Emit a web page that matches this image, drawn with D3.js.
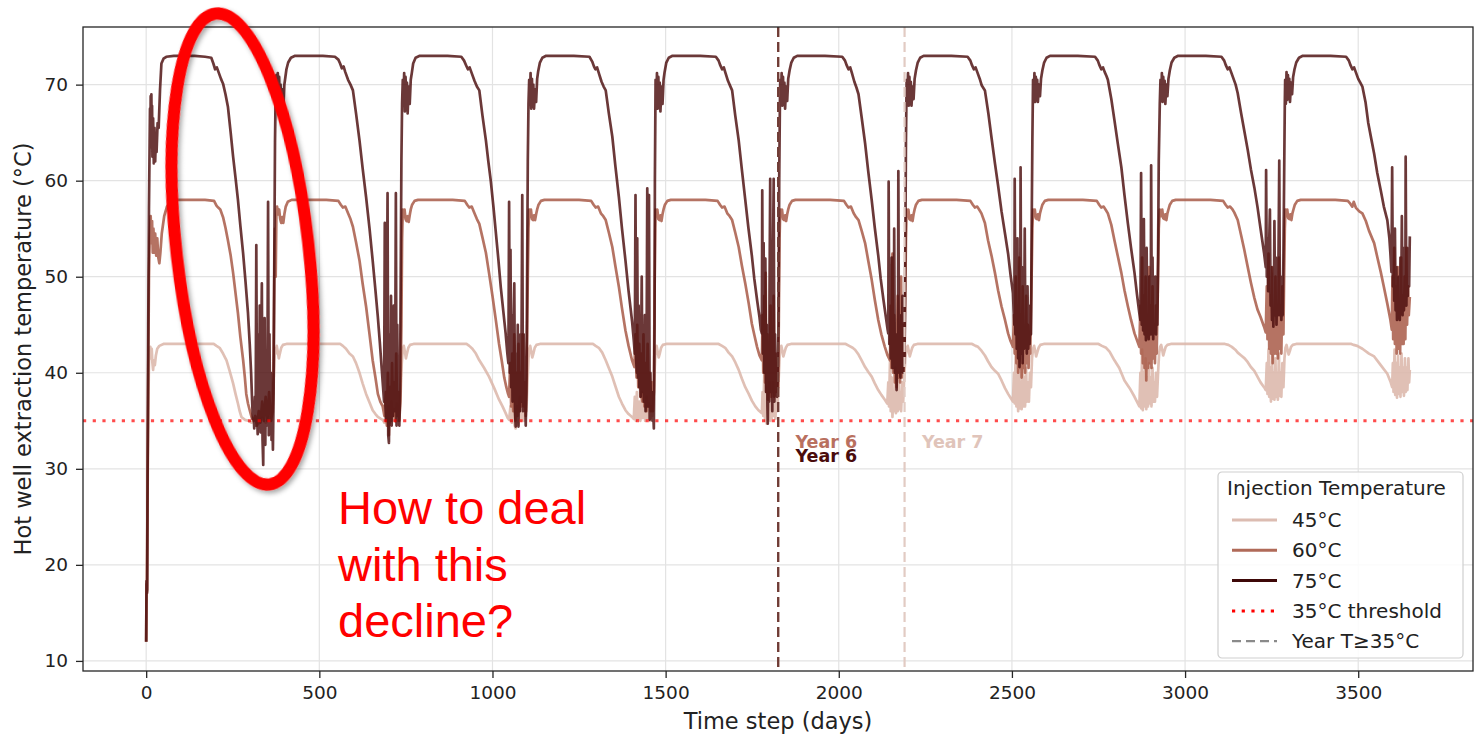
<!DOCTYPE html>
<html><head><meta charset="utf-8">
<script src="https://cdn.jsdelivr.net/npm/d3@7"></script>
<style>html,body{margin:0;padding:0;background:#fff}svg{display:block}</style>
</head><body>
<svg id="chart" width="1475" height="736"></svg>
<script>
// ---------------- DATA (day, °C) ----------------
const t45 = [
[0,12],[1,18],[2,17],[4,27],[6,36],[8,41],[10,42.5],[12,42.7],[14,41.5],[16,42.5],[18,41],[20,40.3],[22,41.3],[25,40.8],[28,41.8],[32,42.5],[38,42.8],[50,43],[100,43],[150,43],[195,43],[203,42.8],[212,42.6],[222,42],[232,41.3],[241,40.2],[251,38.9],[258,37.8],[265,36.8],[270,36],[275,35.4],[285,35.1],[295,35],[305,34.8],[315,35.2],[325,34.7],[335,35.3],[345,34.8],[355,35.4],[362,35],[366,36],[369,40],[372,42.5],
[374,42],[377,42.8],[380,42.2],[383,41.5],[386,42],[390,42.6],[395,42.9],[405,43],[460,43],[520,43],[560,43],[568,42.8],[577,42.5],[587,42],[597,41.7],[606,41],[616,40],[625,38.9],[635,37.8],[645,36.9],[654,36.1],[662,35.7],[669,35.4],[678,35.2],[683,35.1],[688,34.8],[692,35.8],[696,34.6],[700,36.5],[704,34.8],[708,37],[712,35],[716,36.2],[720,34.9],[724,36.8],[728,35],[732,36],[735,38],[738,41],[741,42.5],
[744,42.8],[747,42.2],[750,41.5],[753,42],[757,42.6],[762,42.9],[772,43],[830,43],[890,43],[925,43],[933,42.8],[942,42.5],[952,42],[962,41.3],[976,40.5],[990,39.6],[1005,38.4],[1019,37.2],[1029,36.5],[1038,35.8],[1044,35.3],[1048,35.1],[1052,36.5],[1056,34.8],[1060,37],[1064,34.5],[1067,34.2],[1071,36.5],[1075,34.6],[1079,37.5],[1083,35],[1087,36.2],[1091,35],[1095,37],[1098,36],[1101,39],[1104,41.5],[1106,42.5],
[1109,42.8],[1112,42.2],[1115,41.6],[1118,42],[1122,42.6],[1127,42.9],[1137,43],[1195,43],[1255,43],[1290,43],[1298,42.8],[1307,42.6],[1317,42.1],[1327,41.3],[1336,40.5],[1346,39.6],[1355,38.6],[1365,37.5],[1374,36.8],[1384,36.1],[1393,35.7],[1403,35.4],[1408,35.2],[1411,37.5],[1414,35],[1417,38],[1420,35.2],[1424,37],[1427,35],[1431,38],[1434,35.3],[1438,36.5],[1441,35],[1445,37.5],[1448,35.2],[1452,36.8],[1455,35],[1459,36.5],[1462,35.5],[1465,37],[1468,40],[1471,42.5],
[1474,42.8],[1477,42.2],[1480,41.6],[1483,42],[1487,42.6],[1492,42.9],[1502,43],[1560,43],[1620,43],[1653,43],[1663,42.8],[1672,42.6],[1682,42.1],[1692,41.7],[1701,41.1],[1711,40.3],[1720,39.4],[1730,38.5],[1740,37.8],[1749,37.1],[1759,36.5],[1768,36.1],[1778,35.8],[1780,38],[1782,35.5],[1785,40],[1787,35],[1790,38.5],[1792,34.7],[1795,37],[1797,35.2],[1800,39],[1802,35],[1805,37.5],[1807,35.3],[1810,39],[1812,35.5],[1815,37],[1817,35.2],[1820,38],[1823,36],[1826,39],[1829,41.5],[1831,42.5],
[1834,42.8],[1837,42.3],[1840,41.7],[1843,42.1],[1847,42.6],[1852,42.9],[1862,43],[1920,43],[1980,43],[2020,43],[2030,42.8],[2040,42.6],[2047,42.4],[2057,41.9],[2066,41.3],[2076,40.6],[2085,40.1],[2095,39.6],[2104,38.9],[2114,38.2],[2123,37.7],[2133,37.2],[2140,36.8],[2143,39],[2145,36.5],[2148,41.3],[2150,36],[2153,39.5],[2155,35.4],[2158,38],[2160,36],[2163,40.5],[2165,35.8],[2168,38.5],[2170,36],[2173,40],[2175,36.2],[2178,38],[2180,36],[2183,39],[2186,37],[2189,39.5],[2192,41.5],[2196,42.5],
[2199,42.8],[2202,42.3],[2205,41.7],[2208,42.1],[2212,42.6],[2217,42.9],[2227,43],[2285,43],[2345,43],[2385,43],[2395,42.8],[2402,42.7],[2412,42.3],[2422,41.8],[2431,41.2],[2441,40.6],[2451,40.2],[2460,39.9],[2470,39.2],[2480,38.4],[2489,37.8],[2496,37.4],[2503,37],[2506,40],[2508,36.8],[2511,42.4],[2513,36.5],[2516,40],[2518,36],[2521,41.5],[2523,36.3],[2526,39],[2528,36.2],[2531,41],[2533,36.5],[2536,39.5],[2538,36.5],[2541,40.5],[2543,37],[2546,39],[2549,37],[2552,40],[2555,38.5],[2558,41.5],[2561,42.5],
[2564,42.8],[2567,42.3],[2570,41.7],[2573,42.1],[2577,42.6],[2582,42.9],[2592,43],[2650,43],[2710,43],[2750,43],[2760,42.8],[2772,42.6],[2782,42.2],[2796,41.3],[2810,40.5],[2825,39.2],[2840,38.4],[2854,37.5],[2861,37],[2868,36.5],[2871,40],[2873,36.3],[2876,42.4],[2878,36.1],[2881,40],[2883,36.5],[2886,41.5],[2888,36.2],[2891,39.5],[2893,36.5],[2896,41],[2898,36.8],[2901,39.5],[2903,36.5],[2906,40.5],[2908,37],[2911,39],[2913,37],[2916,40],[2919,37.5],[2922,40],[2925,42],[2928,42.7],
[2931,42.9],[2934,42.4],[2937,41.8],[2940,42.2],[2944,42.7],[2949,42.9],[2959,43],[3020,43],[3080,43],[3115,43],[3125,42.9],[3135,42.7],[3145,42.4],[3152,42.1],[3162,41.8],[3172,41.5],[3181,41.1],[3190,40.6],[3200,40.2],[3209,39.6],[3218,39],[3228,38.5],[3233,38.2],[3236,41],[3238,37.8],[3241,42.4],[3243,37.5],[3246,40.5],[3248,37],[3251,41.8],[3253,37.3],[3256,40],[3258,37.2],[3261,41.5],[3263,37.5],[3266,40],[3268,37.2],[3271,42],[3273,37.6],[3276,40],[3278,37.5],[3281,41],[3284,38.5],[3287,41.5],[3290,42.6],
[3293,42.9],[3296,42.4],[3299,41.9],[3302,42.2],[3306,42.7],[3311,42.9],[3321,43],[3380,43],[3440,43],[3480,43],[3487,42.9],[3497,42.8],[3512,42.5],[3531,42],[3546,41.7],[3565,40.8],[3584,39.9],[3593,39.1],[3598,38.5],[3600,41],[3602,38],[3605,42.4],[3607,37.7],[3610,41],[3612,37.4],[3615,41.8],[3617,37.8],[3620,40.5],[3622,37.5],[3625,42],[3627,38],[3630,40.5],[3632,37.6],[3635,41.5],[3637,38],[3640,40.5],[3642,38.2],[3645,41.5],[3647,39],[3649,40.3]
];

const t60 = [
[0,12],[1,18],[2,17],[4,28],[6,40],[8,50],[10,54],[13,56.3],[15,53.5],[17,55.8],[19,52.5],[21,55],[23,52.5],[26,54.5],[29,52.2],[32,54],[35,52],[38,51.4],[41,52.5],[45,54.5],[52,56.3],[60,57.3],[70,57.8],[80,58],[120,58],[170,58],[196,57.9],[203,57.4],[208,57.2],[214,57],[222,56.2],[229,55.1],[236,53.8],[244,52.2],[251,50.4],[258,48.3],[265,46.2],[272,43.7],[280,41.3],[285,39.5],[289,37.8],[294,36.8],[299,36.1],[305,35.3],[310,35],[315,35.5],[320,34.5],[325,36],[330,34.8],[335,37],[340,35],[345,37.5],[350,35],[355,38],[360,35],[365,36],[368,42],[370,50],[372,55],
[374,50],[376,56.5],[378,57.3],[381,56.5],[384,57],[387,56],[390,55.6],[393,56.2],[396,55.6],[399,56.5],[403,57.3],[409,57.8],[420,58],[470,58],[520,58],[555,57.9],[562,57.5],[568,57.2],[575,57.3],[583,56.6],[590,56],[597,55.2],[606,53.6],[616,51.7],[625,49.3],[635,46.9],[645,44],[654,41.3],[662,39.5],[669,37.8],[676,37],[683,36.5],[688,35.5],[692,38],[695,34.5],[698,40],[701,33.5],[704,38.5],[707,35],[710,41],[713,35.5],[716,39],[719,35],[722,42],[725,35.5],[728,38],[731,35],[734,37],[737,45],[739,54],[741,57],
[743,56.2],[746,57],[749,56],[752,55.8],[755,56.3],[758,55.7],[761,56.4],[764,57],[768,57.5],[775,57.9],[785,58],[835,58],[885,58],[920,57.9],[927,57.5],[933,57.2],[940,57.3],[948,56.6],[955,56],[962,55.5],[971,54.1],[981,52.5],[990,50.4],[1000,48],[1010,45.4],[1019,43],[1027,41.2],[1034,39.5],[1040,38.5],[1045,37.8],[1048,37.5],[1051,41],[1054,36.5],[1057,42],[1060,36],[1063,44],[1066,35],[1069,40],[1072,35.5],[1075,43],[1078,36],[1081,40],[1084,36.5],[1087,44],[1090,36.5],[1093,39],[1096,35.5],[1099,40],[1102,50],[1104,55],[1106,57],
[1108,56.2],[1111,57],[1114,56],[1117,55.9],[1120,56.4],[1123,55.9],[1126,56.5],[1129,57],[1133,57.5],[1140,57.9],[1150,58],[1200,58],[1250,58],[1285,57.9],[1292,57.5],[1298,57.2],[1305,57.3],[1313,56.6],[1320,56.3],[1327,55.9],[1336,54.6],[1346,53.1],[1355,51.1],[1365,48.95],[1374,46.7],[1384,44.4],[1393,42.8],[1403,41.3],[1410,40.6],[1413,44],[1416,39.5],[1418,45],[1421,38.5],[1424,43],[1427,37.5],[1430,42],[1433,37],[1436,44],[1439,36.5],[1442,41],[1445,36],[1448,43],[1451,36.5],[1454,40],[1457,36],[1460,39],[1463,36],[1466,38],[1468,48],[1470,55],[1471,57],
[1473,56.3],[1476,57],[1479,56],[1482,55.9],[1485,56.4],[1488,55.8],[1491,56.5],[1494,57],[1498,57.5],[1505,57.9],[1515,58],[1565,58],[1615,58],[1650,57.9],[1657,57.5],[1663,57.2],[1670,57.3],[1678,56.6],[1685,56.3],[1692,55.9],[1701,54.6],[1711,53.1],[1720,51.2],[1730,49.3],[1740,47.2],[1749,45.1],[1757,43.8],[1764,42.7],[1771,41.8],[1778,41.3],[1780,46],[1782,40],[1785,48],[1787,39],[1789,50.4],[1791,38],[1794,44],[1796,37.2],[1799,42],[1801,38],[1803,47],[1805,37.5],[1808,43],[1810,38],[1812,48],[1814,37.5],[1817,42],[1819,38],[1822,41],[1825,38.5],[1827,46],[1829,54],[1831,57],
[1833,56.3],[1836,57],[1839,56],[1842,55.9],[1845,56.4],[1848,55.8],[1851,56.5],[1854,57],[1858,57.5],[1865,57.9],[1875,58],[1925,58],[1975,58],[2015,57.9],[2022,57.5],[2028,57.2],[2035,57.3],[2043,56.6],[2050,56.2],[2057,55.9],[2066,54.8],[2076,53.5],[2085,51.7],[2095,49.7],[2104,47.6],[2114,45.5],[2123,44],[2133,42.7],[2141,41.8],[2148,41.3],[2150,47],[2152,40.5],[2155,52.4],[2157,40],[2160,46],[2162,39],[2165,44],[2167,38.5],[2170,48],[2172,39.5],[2175,44],[2177,39],[2180,50],[2182,39.5],[2185,45],[2187,40],[2190,43],[2192,48],[2194,54],[2196,57],
[2198,56.3],[2201,57],[2204,56],[2207,55.9],[2210,56.4],[2213,55.8],[2216,56.5],[2219,57],[2223,57.5],[2230,57.9],[2240,58],[2290,58],[2340,58],[2380,57.9],[2387,57.5],[2393,57.2],[2400,57.3],[2407,56.9],[2412,56.6],[2422,55.6],[2431,53.8],[2441,52.2],[2451,50.4],[2460,48.6],[2470,46.9],[2480,45.5],[2489,44.1],[2496,43.3],[2503,42.7],[2506,46],[2508,42],[2511,50],[2513,41],[2516,47],[2518,40],[2521,52],[2523,40.5],[2526,46],[2528,39.5],[2531,49],[2533,40.5],[2536,44],[2538,40],[2541,48],[2543,41],[2546,45],[2548,40.5],[2551,44],[2553,42],[2556,48],[2559,55],[2561,57],
[2563,56.3],[2566,57],[2569,56.1],[2572,56],[2575,56.5],[2578,55.9],[2581,56.6],[2584,57],[2588,57.5],[2595,57.9],[2605,58],[2655,58],[2705,58],[2745,57.9],[2752,57.5],[2758,57.2],[2765,57.3],[2772,56.9],[2777,56.6],[2787,55.4],[2796,53.8],[2806,52.1],[2816,50.4],[2825,48.6],[2835,46.9],[2844,45.5],[2854,44.1],[2861,43.4],[2868,42.7],[2871,47],[2873,42],[2876,52],[2878,41],[2881,48],[2883,40.5],[2886,50],[2888,39.2],[2891,46],[2893,40.5],[2896,51],[2898,41],[2901,47],[2903,40.5],[2906,49],[2908,41.5],[2911,45],[2913,41],[2916,47],[2918,42],[2921,48],[2924,55],[2927,57],
[2931,56.3],[2934,57],[2937,56.1],[2940,56],[2943,56.5],[2946,55.9],[2949,56.6],[2952,57],[2956,57.5],[2963,57.9],[2973,58],[3023,58],[3073,58],[3110,57.9],[3117,57.5],[3123,57.2],[3130,57.3],[3137,57],[3142,56.7],[3152,55.9],[3162,54.3],[3171,52.8],[3181,51],[3190,49.4],[3200,47.8],[3209,46.6],[3218,45.8],[3228,44.8],[3233,44.2],[3236,49],[3238,43.5],[3241,52.4],[3243,42.5],[3246,48],[3248,42],[3251,51],[3253,41],[3256,46],[3258,42],[3261,50],[3263,42],[3266,47],[3268,41.5],[3271,52],[3273,42.5],[3276,47],[3278,42],[3281,49],[3284,44],[3286,50],[3288,55],[3290,57],
[3292,56.3],[3295,57],[3298,56.1],[3301,56],[3304,56.5],[3307,55.9],[3310,56.6],[3313,57],[3317,57.5],[3324,57.9],[3334,58],[3384,58],[3434,58],[3470,57.9],[3477,57.6],[3483,57.3],[3487,57.8],[3493,57.2],[3503,56.8],[3512,56.6],[3522,55.8],[3531,54.8],[3546,53.5],[3556,51.9],[3565,50.5],[3574,48.95],[3584,47.2],[3593,45.5],[3597,44.5],[3599,50],[3601,43.5],[3604,53],[3606,43],[3609,49],[3611,42],[3614,51],[3616,42.5],[3619,47],[3621,42],[3624,52],[3626,43],[3629,48],[3631,43],[3634,50],[3636,43.5],[3639,53],[3641,45],[3644,49],[3646,46],[3649,47.9]
];

const t75 = [
[0,12],[1,18.3],[2,17.1],[3,17.4],[4,29],[5,37],[6,45],[8,57],[10,64],[11,67.5],[12,63.5],[13,68.8],[14,64.5],[15,69],[16,64],[17,67.8],[18,62.5],[20,66.5],[22,61.8],[24,65.5],[26,62],[28,64.5],[30,63],[33,66],[36,65.5],[40,69.5],[44,72.2],[50,72.7],[58,72.9],[80,73],[110,73],[140,73],[170,72.9],[188,72.8],[194,72.2],[199,71.6],[204,71.8],[210,71.2],[216,70.6],[222,70.1],[229,69],[236,67.7],[244,65],[251,62.5],[258,60.3],[265,58],[272,55.3],[280,52.4],[287,49.4],[294,46.2],[299,43],[303,40],[306,37],[308,35.2],[310,36],[312,34.2],[314,37.5],[316,34.5],[318,53.3],[320,36],[322,33.6],[324,44],[326,34.8],[328,47],[330,33.8],[332,41.5],[334,49.3],[336,33],[338,30.4],[340,43],[342,45.7],[344,32.5],[346,41],[348,34.5],[350,39],[352,57.8],[354,33.5],[356,44],[358,35],[360,40],[362,33],[364,36],[366,32],[368,38],[370,52],[372,64],[374,69.5],
[376,71],[378,68.5],[380,71.2],[382,67.5],[384,70.8],[386,67],[388,70],[390,68],[393,69.5],[396,67.5],[399,70],[402,70.8],[405,71.6],[410,72.3],[418,72.8],[430,73],[470,73],[510,73],[545,72.9],[555,72.6],[560,72.2],[565,71.7],[570,71.9],[575,71.3],[583,70.5],[590,70],[597,69.4],[606,67],[616,64.2],[625,61.3],[635,58.3],[645,55],[654,51.7],[662,48.6],[669,45.8],[675,43],[680,40.5],[684,38.5],[687,37],[689,55.6],[691,36.5],[693,35],[695,45],[697,58.7],[699,33.5],[701,32.7],[703,44],[705,36],[707,48],[709,34.5],[711,42],[713,35.5],[715,47],[717,36],[719,40],[721,58.7],[723,34.5],[725,45],[727,37],[729,41],[731,34.5],[733,38],[735,50],[737,62],[739,68],[741,70.5],
[743,68.5],[745,71.2],[747,67.2],[749,70.8],[751,67.8],[753,70.2],[755,67],[758,69.8],[761,68],[764,70.5],[767,71.2],[771,72.2],[778,72.8],[790,73],[830,73],[870,73],[910,72.9],[918,72.5],[924,72],[929,71.6],[934,71.8],[940,71.2],[948,70.4],[955,69.8],[962,69.4],[971,66.8],[981,64.2],[988,62],[995,60],[1003,57.2],[1010,54.5],[1017,51.8],[1024,48.9],[1031,46.5],[1038,44.1],[1043,42],[1046,41],[1048,57.8],[1050,40],[1052,52.8],[1054,38.5],[1056,46],[1058,37],[1060,44],[1063,49.3],[1065,36],[1067,34.4],[1069,42],[1071,35.5],[1073,45],[1075,34.4],[1077,40],[1079,36],[1081,44],[1083,37],[1086,58.5],[1088,36],[1090,44],[1092,38],[1094,40],[1096,34.5],[1098,38],[1100,50],[1102,62],[1104,68],[1106,70.5],
[1108,68],[1110,71.2],[1112,67.5],[1114,70.6],[1116,67.8],[1118,70],[1120,67.5],[1123,69.5],[1126,68.2],[1129,70.6],[1132,71.4],[1137,72.3],[1144,72.8],[1155,73],[1195,73],[1235,73],[1280,72.9],[1288,72.4],[1293,71.9],[1297,71.6],[1302,71.8],[1308,71.1],[1315,70.3],[1321,69.8],[1327,69.4],[1336,67],[1346,64.6],[1355,61.5],[1365,58.3],[1374,55],[1384,51.7],[1393,48.5],[1403,45.4],[1408,43.4],[1411,42],[1413,58.5],[1415,41.3],[1417,40],[1418,54],[1420,39.5],[1422,47],[1424,38.5],[1426,44],[1428,37.5],[1431,50],[1433,38],[1435,43],[1437,37],[1440,46],[1442,36],[1445,42],[1447,59.2],[1449,36.5],[1451,44],[1452,58.5],[1454,35.1],[1456,40],[1458,35.5],[1460,38],[1462,35],[1464,36],[1466,34.2],[1468,45],[1469,60],[1471,70.5],
[1473,68.2],[1475,71.2],[1477,67.5],[1479,70.8],[1481,67.8],[1483,70.2],[1485,67.2],[1488,69.8],[1491,68],[1494,70.5],[1497,71.3],[1502,72.3],[1509,72.8],[1520,73],[1560,73],[1600,73],[1645,72.9],[1653,72.5],[1658,72],[1663,71.6],[1668,71.8],[1673,71.2],[1680,70.4],[1686,69.9],[1692,69.4],[1701,66.8],[1711,64.2],[1720,61.2],[1730,58],[1739,55.1],[1749,52.2],[1756,49.8],[1764,47.6],[1771,45.8],[1775,44.5],[1778,44.1],[1779,59],[1781,42],[1783,53.5],[1785,40],[1787,47],[1788,51.9],[1790,38],[1792,45],[1794,36.5],[1795,34.7],[1797,42],[1799,37],[1800,48],[1802,60.2],[1804,38],[1806,45],[1808,36],[1810,52],[1812,60.2],[1814,37],[1816,44],[1818,38],[1820,42],[1822,37.5],[1824,40],[1826,45],[1828,60],[1830,68],[1831,70.5],
[1833,68.5],[1835,71.2],[1837,67.8],[1839,70.8],[1841,68],[1843,70.2],[1845,67.5],[1848,69.8],[1851,68.3],[1854,70.6],[1858,71.5],[1863,72.3],[1870,72.8],[1880,73],[1920,73],[1960,73],[2010,72.9],[2018,72.5],[2023,72],[2028,71.6],[2033,71.8],[2038,71.2],[2045,70.3],[2051,69.7],[2057,69],[2066,66.6],[2076,63.9],[2085,61],[2095,58],[2104,55.1],[2114,52.2],[2121,49.8],[2129,47.6],[2136,45.8],[2141,44.5],[2143,44.1],[2144,59.9],[2146,43],[2148,50],[2150,41.5],[2152,46],[2153,52],[2155,40.5],[2157,47],[2159,41],[2160,55],[2162,40],[2165,44],[2167,38.2],[2169,43],[2171,40],[2172,61],[2174,40.5],[2176,46],[2178,39.5],[2180,44],[2182,41],[2184,48],[2186,40],[2188,44],[2190,41],[2192,52],[2194,64],[2196,70.5],
[2198,68.5],[2200,71.2],[2202,67.8],[2204,70.8],[2206,68.2],[2208,70.3],[2210,67.8],[2213,69.8],[2216,68.5],[2219,70.6],[2223,71.5],[2228,72.3],[2235,72.8],[2245,73],[2285,73],[2325,73],[2372,72.9],[2380,72.5],[2385,72],[2390,71.6],[2395,71.8],[2400,71.3],[2408,70.5],[2413,69.9],[2422,69.4],[2432,67],[2441,64.5],[2451,61.8],[2460,59.5],[2470,56.8],[2480,54.5],[2489,52.4],[2496,50.2],[2503,48.3],[2505,46.5],[2507,45],[2508,60.2],[2510,44],[2512,50],[2514,42.5],[2516,54],[2518,41.5],[2520,48],[2522,40.6],[2524,46],[2525,61.4],[2527,42],[2529,51],[2531,41],[2533,47],[2535,42.5],[2537,55],[2539,43],[2541,46],[2543,42],[2545,49],[2547,42.5],[2549,45],[2551,43],[2553,47],[2555,44],[2557,55],[2559,64],[2561,70.5],
[2563,68.5],[2565,71.2],[2567,68.2],[2569,70.8],[2571,68.5],[2573,70.5],[2575,68.2],[2578,70],[2581,68.8],[2584,70.6],[2588,71.5],[2593,72.3],[2600,72.8],[2610,73],[2650,73],[2690,73],[2740,72.9],[2748,72.5],[2753,72],[2758,71.6],[2763,71.8],[2768,71.3],[2773,70.9],[2777,70.5],[2787,68.5],[2796,66.3],[2806,63.8],[2816,61.4],[2825,58.5],[2835,55.5],[2844,53],[2854,50.4],[2861,48.2],[2868,46.2],[2871,45.5],[2873,60.8],[2875,45],[2877,51],[2879,44.4],[2881,56],[2883,44],[2885,49],[2887,43.4],[2889,53],[2891,44],[2893,47],[2895,43.5],[2897,50],[2899,44],[2901,46],[2902,61.6],[2904,44],[2906,52],[2908,43.5],[2910,47],[2912,44.5],[2914,50],[2916,44],[2918,48],[2920,45],[2922,52],[2924,62],[2927,68],[2929,70.5],
[2931,68.5],[2933,71.2],[2935,68.2],[2937,70.8],[2939,68.4],[2941,70.4],[2943,68],[2946,70],[2949,68.8],[2952,70.6],[2956,71.5],[2961,72.3],[2969,72.8],[2980,73],[3020,73],[3060,73],[3105,72.9],[3113,72.5],[3118,72],[3123,71.6],[3128,71.8],[3133,71.3],[3140,70.6],[3146,70],[3152,69.1],[3162,67],[3171,65.2],[3181,63.2],[3190,61.2],[3200,59.3],[3209,57.3],[3218,55],[3228,52.5],[3233,51],[3234,61.1],[3236,50],[3238,54],[3240,48.5],[3242,52],[3245,57],[3247,47],[3249,51],[3251,45.5],[3253,49],[3255,44.8],[3257,50],[3258,55.8],[3260,46],[3262,52],[3264,45],[3266,49],[3268,46],[3270,53],[3272,62.1],[3274,46],[3276,50],[3278,45.5],[3280,48],[3282,46],[3284,52],[3286,60],[3288,68],[3289,70.5],
[3291,68],[3293,71.3],[3295,68.4],[3297,71],[3299,68.6],[3301,70.6],[3303,68.2],[3306,70.2],[3309,69],[3312,70.8],[3316,71.6],[3321,72.3],[3329,72.8],[3340,73],[3380,73],[3420,73],[3465,72.9],[3473,72.5],[3478,72],[3483,71.6],[3488,71.8],[3493,71.3],[3500,70.6],[3506,70.2],[3512,69.8],[3521,68.2],[3529,66],[3538,64.3],[3546,62.8],[3555,60.8],[3565,59],[3574,57.3],[3584,55.9],[3590,54],[3593,52.4],[3596,50.5],[3598,61.4],[3600,49],[3602,52.5],[3604,47.5],[3606,55],[3608,46.5],[3610,51],[3612,45.5],[3614,49],[3616,46],[3618,50],[3620,45.5],[3622,52],[3624,47],[3626,56.3],[3628,46],[3630,53],[3632,46.5],[3634,50],[3636,47],[3637,62.5],[3639,47],[3641,53],[3643,48],[3645,51],[3647,49],[3649,54.2]
];

const seriesNames = ["45°C", "60°C", "75°C"];
const xTicks = [0, 500, 1000, 1500, 2000, 2500, 3000, 3500];
const yTicks = [10, 20, 30, 40, 50, 60, 70];
const thresholdValue = 35;
const yearDays = [1825, 1825, 2190];          // day where T stays ≥ 35 °C
const yearLabels = ["Year 6", "Year 6", "Year 7"];
const yearSeries = ["60°C", "75°C", "45°C"];
const legendTitle = "Injection Temperature";
const legendExtra = ["35°C threshold", "Year T≥35°C"];
const noteLines = ["How to deal", "with this", "decline?"];

// ---------------- LAYOUT ----------------
const M = {left: 83, right: 1473, top: 27, bottom: 671};
const colors = {"45°C": "#dbb5a8", "60°C": "#a85a48", "75°C": "#4a0c0c"};
const legendColors = {"45°C": "#dcbcb1", "60°C": "#b06a58", "75°C": "#3e0808"};
const labelColors = {"45°C": "#e0c4ba", "60°C": "#b9705f", "75°C": "#4a0c0c"};
const FONT = "'DejaVu Sans', sans-serif";

const svg = d3.select("#chart");
const x = d3.scaleLinear().domain([-182.45, 3831.45]).range([M.left, M.right]);
const y = d3.scaleLinear().domain([8.95, 76.0]).range([M.bottom, M.top]);

const defs = svg.append("defs");
defs.append("clipPath").attr("id", "plotclip")
  .append("rect").attr("x", M.left).attr("y", M.top)
  .attr("width", M.right - M.left).attr("height", M.bottom - M.top);

// grid
const grid = svg.append("g");
grid.selectAll(".gx").data(xTicks).join("line")
  .attr("x1", d => x(d)).attr("x2", d => x(d)).attr("y1", M.top).attr("y2", M.bottom)
  .attr("stroke", "#e3e3e3").attr("stroke-width", 1.2);
grid.selectAll(".gy").data(yTicks).join("line")
  .attr("y1", d => y(d)).attr("y2", d => y(d)).attr("x1", M.left).attr("x2", M.right)
  .attr("stroke", "#e3e3e3").attr("stroke-width", 1.2);

// series
const line = d3.line().x(d => x(d[0])).y(d => y(d[1]));
const plot = svg.append("g").attr("clip-path", "url(#plotclip)");
const seriesData = {"45°C": t45, "60°C": t60, "75°C": t75};
seriesNames.forEach(name => {
  plot.append("path").datum(seriesData[name])
    .attr("d", line).attr("fill", "none")
    .attr("stroke", colors[name]).attr("stroke-opacity", name === "75°C" ? 0.82 : 0.85)
    .attr("stroke-width", 2.7).attr("stroke-linejoin", "round");
});

// threshold
plot.append("line").attr("x1", M.left).attr("x2", M.right)
  .attr("y1", y(thresholdValue)).attr("y2", y(thresholdValue))
  .attr("stroke", "#ff0000").attr("stroke-opacity", 0.7)
  .attr("stroke-width", 3).attr("stroke-dasharray", "3.2,6.5");

// year lines + labels
const yearLineColors = {"45°C": "#e2cbc3", "60°C": "#b47565", "75°C": "#6e3c36"};
yearDays.forEach((d, i) => {
  plot.append("line").attr("x1", x(d)).attr("x2", x(d)).attr("y1", M.top).attr("y2", M.bottom)
    .attr("stroke", yearLineColors[yearSeries[i]]).attr("stroke-width", 2.2)
    .attr("stroke-dasharray", "10,5");
});
const labelT = {"60°C": 32.2, "75°C": 30.75, "45°C": 32.2};
yearDays.forEach((d, i) => {
  svg.append("text").attr("x", x(d + 50)).attr("y", y(labelT[yearSeries[i]]))
    .attr("font-family", FONT).attr("font-weight", "bold").attr("font-size", 17.5)
    .attr("fill", labelColors[yearSeries[i]]).text(yearLabels[i]);
});

// frame
svg.append("rect").attr("x", M.left).attr("y", M.top)
  .attr("width", M.right - M.left).attr("height", M.bottom - M.top)
  .attr("fill", "none").attr("stroke", "#262626").attr("stroke-width", 1.3);

// axes
const xAxis = svg.append("g").attr("transform", `translate(0,${M.bottom})`)
  .call(d3.axisBottom(x).tickValues(xTicks).tickSize(7).tickPadding(8).tickFormat(d3.format("d")));
const yAxis = svg.append("g").attr("transform", `translate(${M.left},0)`)
  .call(d3.axisLeft(y).tickValues(yTicks).tickSize(7).tickPadding(8).tickFormat(d3.format("d")));
[xAxis, yAxis].forEach(a => {
  a.select(".domain").remove();
  a.selectAll(".tick line").attr("stroke", "#262626").attr("stroke-width", 1.3);
  a.selectAll(".tick text").attr("font-family", FONT).attr("font-size", 18.5).attr("fill", "#222");
});

svg.append("text").attr("x", (M.left + M.right) / 2).attr("y", 729)
  .attr("text-anchor", "middle").attr("font-family", FONT).attr("font-size", 22.5).attr("fill", "#222")
  .text("Time step (days)");
svg.append("text").attr("transform", `translate(30.5,${(M.top + M.bottom) / 2}) rotate(-90)`)
  .attr("text-anchor", "middle").attr("font-family", FONT).attr("font-size", 22.5).attr("fill", "#222")
  .text("Hot well extraction temperature (°C)");

// legend
const lg = svg.append("g").attr("transform", "translate(1218,472)");
lg.append("rect").attr("width", 245).attr("height", 186).attr("rx", 4)
  .attr("fill", "#fff").attr("fill-opacity", 0.85).attr("stroke", "#cfcfcf").attr("stroke-width", 1.2);
lg.append("text").attr("x", 9).attr("y", 23).attr("font-family", FONT).attr("font-size", 20)
  .attr("fill", "#222").text(legendTitle);
const entries = seriesNames.map(n => ({label: n, type: n})).concat(legendExtra.map((l, i) => ({label: l, type: i === 0 ? "thr" : "year"})));
entries.forEach((e, i) => {
  const cy = 48 + i * 30.3;
  const h = lg.append("line").attr("x1", 14).attr("x2", 59).attr("y1", cy).attr("y2", cy);
  if (e.type === "thr") h.attr("stroke", "#ff0000").attr("stroke-width", 3).attr("stroke-dasharray", "3.2,6.5");
  else if (e.type === "year") h.attr("stroke", "#8a8a8a").attr("stroke-width", 2.2).attr("stroke-dasharray", "9,5");
  else h.attr("stroke", legendColors[e.type]).attr("stroke-width", 3);
  lg.append("text").attr("x", 74).attr("y", cy + 7).attr("font-family", FONT).attr("font-size", 20)
    .attr("fill", "#222").text(e.label);
});

// annotation
const f = defs.append("filter").attr("id", "shadow").attr("x", "-20%").attr("y", "-20%").attr("width", "140%").attr("height", "140%");
f.append("feDropShadow").attr("dx", 2).attr("dy", 3).attr("stdDeviation", 2.5)
  .attr("flood-color", "#000").attr("flood-opacity", 0.35);
svg.append("ellipse").attr("cx", 242.5).attr("cy", 249).attr("rx", 66).attr("ry", 237)
  .attr("transform", "rotate(-6.5,242.5,249)")
  .attr("fill", "none").attr("stroke", "#ff0000").attr("stroke-width", 12).attr("filter", "url(#shadow)");
const note = svg.append("text").attr("font-family", "'Liberation Sans', Arial, sans-serif")
  .attr("font-size", 47).attr("fill", "#ff0000");
noteLines.forEach((t, i) => note.append("tspan").attr("x", 338).attr("y", 524 + i * 56.5).text(t));
</script>
</body></html>
